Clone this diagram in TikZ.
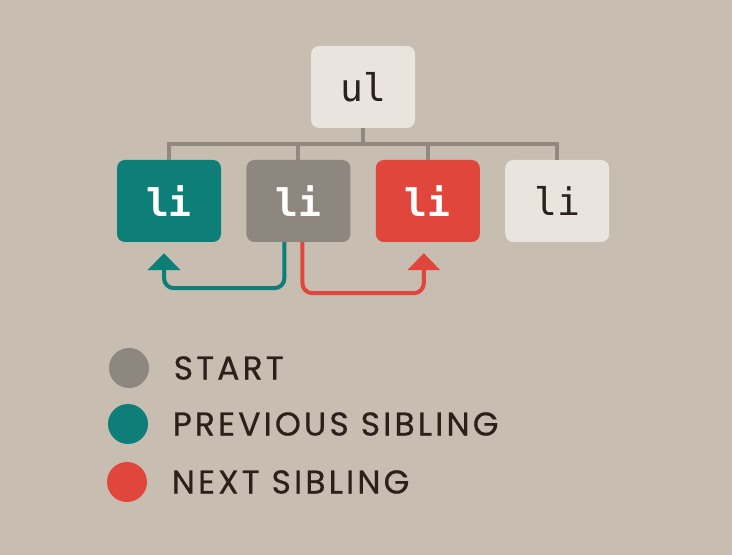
\documentclass[tikz,border=0pt]{standalone}
\usepackage{fontspec}
\setmainfont{Poppins}
\newfontfamily\codefont{DejaVu Sans Mono}
\newfontfamily\keyfont[LetterSpace=9.5, FakeBold=0.6]{Poppins}
\usetikzlibrary{positioning}
\usetikzlibrary{calc}
\usetikzlibrary{arrows.meta}
\definecolor{paper}{RGB}{199,189,177}
\definecolor{prevcol}{RGB}{14,126,120}
\definecolor{startcol}{RGB}{142,135,127}
\definecolor{nextcol}{RGB}{224,70,60}
\definecolor{plaincol}{RGB}{233,228,221}
\definecolor{linecol}{RGB}{145,137,128}
\definecolor{inkcol}{RGB}{43,32,26}
\begin{document}
\begin{tikzpicture}[x=1pt, y=1pt, box/.style={rounded corners=8pt, minimum width=104pt, minimum height=82pt, inner sep=0pt, font=\codefont\fontsize{38}{38}\selectfont}, tree/.style={line width=4pt, draw=linecol}, link/.style={line width=4pt, rounded corners=10pt, -{Triangle[width=32pt, length=17pt]}}, key/.style={circle, minimum size=40pt, inner sep=0pt}, keytext/.style={anchor=west, text=inkcol, font=\keyfont\fontsize{33}{33}\selectfont}]
        \fill[paper] (0,0) rectangle (732,555);
        \useasboundingbox (0,0) rectangle (732,555);

        \node[box, fill=plaincol, text=inkcol] (ul) at (363,468) {ul};
        \node[box, fill=prevcol, text=white] (prev) at (169,354) {\bfseries li};
        \node[box, fill=startcol, text=white, right = 25pt of prev] (start) {\bfseries li};
        \node[box, fill=nextcol, text=white, right = 25pt of start] (next) {\bfseries li};
        \node[box, fill=plaincol, text=inkcol, right = 25pt of next] (last) {li};
        \coordinate (bar) at (0,411);

        \draw[tree] (ul.south) -- (ul.south |- bar);
        \draw[tree] (prev.north) -- (prev.north |- bar) -- (last.north |- bar) -- (last.north);
        \draw[tree] (start.north) -- (start.north |- bar);
        \draw[tree] (next.north) -- (next.north |- bar);

        \draw[link, prevcol] ([xshift=-14pt]start.south) -- ++(0,-46) -| ([xshift=-5pt, yshift=-11pt]prev.south);
        \draw[link, nextcol] ([xshift=4pt]start.south) -- ++(0,-51) -| ([xshift=-4pt, yshift=-11pt]next.south);

        \node[key, fill=startcol] (kstart) at (129,187) {};
        \node[key, fill=prevcol] (kprev) at (128,131) {};
        \node[key, fill=nextcol] (knext) at (127,73) {};
        \node[keytext, right = 21pt of kstart] {START};
        \node[keytext, right = 21pt of kprev] {PREVIOUS SIBLING};
        \node[keytext, right = 21pt of knext] {NEXT SIBLING};
    \end{tikzpicture}
\end{document}
